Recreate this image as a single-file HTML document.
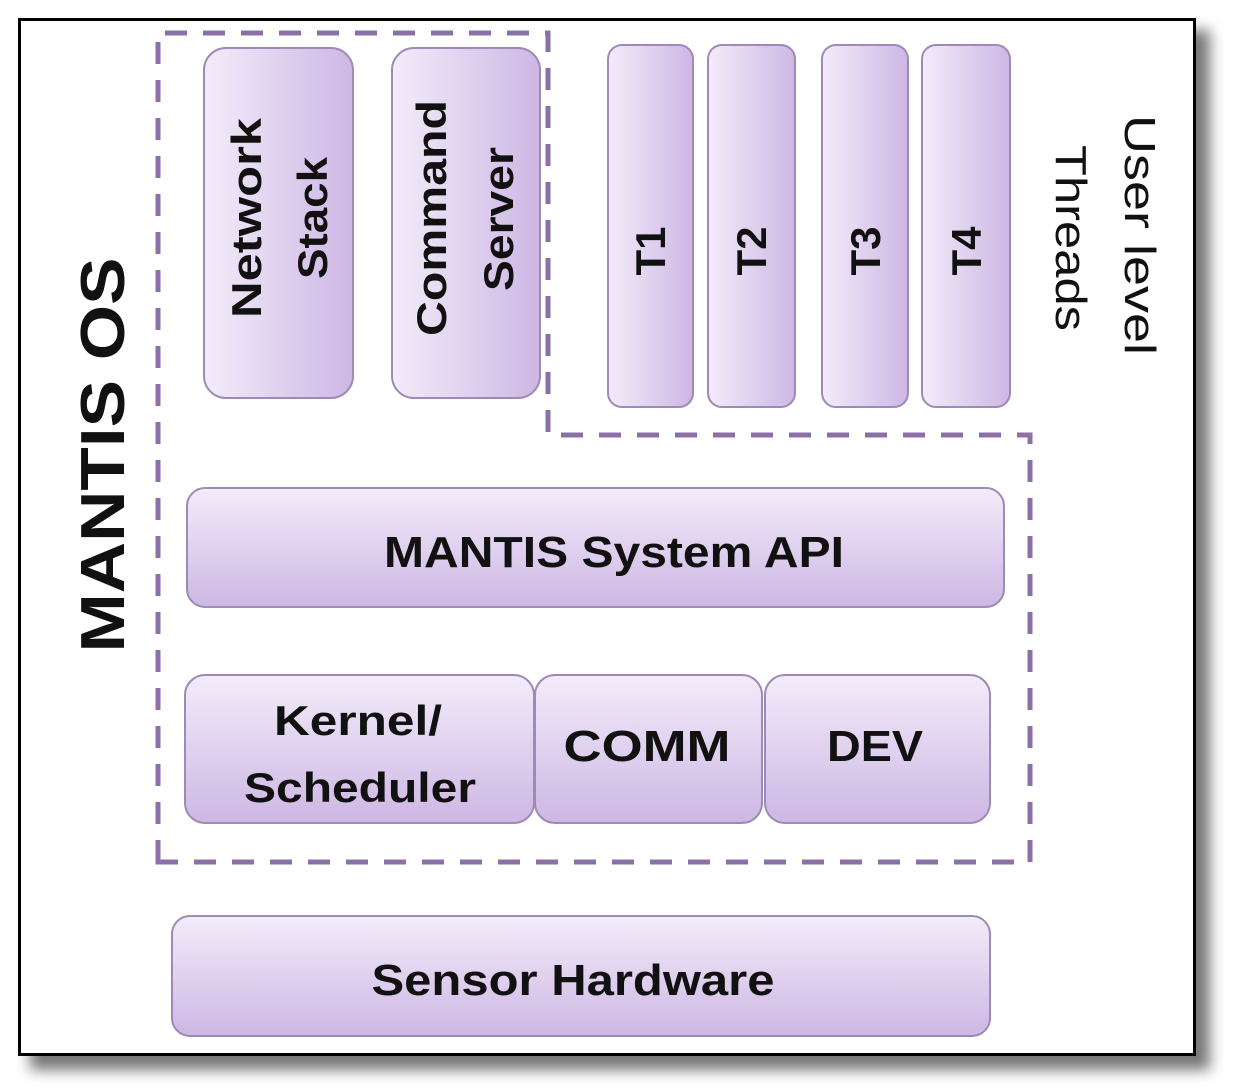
<!DOCTYPE html>
<html><head><meta charset="utf-8"><style>
html,body{margin:0;padding:0;background:#fff;}
svg{display:block;}
text{font-family:"Liberation Sans",sans-serif;font-weight:bold;fill:#111;}
</style></head><body>
<svg width="1249" height="1091" viewBox="0 0 1249 1091" xmlns="http://www.w3.org/2000/svg">
<defs>
<linearGradient id="h" x1="0" y1="0" x2="1" y2="0"><stop offset="0" stop-color="#f3ecfa"/><stop offset="1" stop-color="#cdb7e4"/></linearGradient>
<linearGradient id="v" x1="0" y1="0" x2="0" y2="1"><stop offset="0" stop-color="#f3ecfa"/><stop offset="1" stop-color="#cdb7e4"/></linearGradient>
<filter id="sh" x="-5%" y="-5%" width="115%" height="115%"><feGaussianBlur stdDeviation="7"/></filter>
</defs>
<rect x="30" y="30" width="1180" height="1040" fill="#777" filter="url(#sh)"/>
<rect x="19.5" y="19.5" width="1175" height="1035" fill="#fff" stroke="#000" stroke-width="3"/>
<path d="M158 862 L158 33 L548 33 L548 435 L1030 435 L1030 862 Z" fill="none" stroke="#8a70a6" stroke-width="5" stroke-dasharray="22 16"/>
<g stroke="#9e8ab6" stroke-width="2">
<rect x="204" y="48" width="149" height="350" rx="22" fill="url(#h)"/>
<rect x="392" y="48" width="148" height="350" rx="22" fill="url(#h)"/>
<rect x="608" y="45" width="85" height="362" rx="14" fill="url(#h)"/>
<rect x="708" y="45" width="87" height="362" rx="14" fill="url(#h)"/>
<rect x="822" y="45" width="86" height="362" rx="14" fill="url(#h)"/>
<rect x="922" y="45" width="88" height="362" rx="14" fill="url(#h)"/>
<rect x="187" y="488" width="817" height="119" rx="18" fill="url(#v)"/>
<rect x="185" y="675" width="349" height="148" rx="20" fill="url(#v)"/>
<rect x="535" y="675" width="227" height="148" rx="20" fill="url(#v)"/>
<rect x="765" y="675" width="225" height="148" rx="20" fill="url(#v)"/>
<rect x="172" y="916" width="818" height="120" rx="18" fill="url(#v)"/>
</g>
<text transform="translate(124,455) rotate(-90)" text-anchor="middle" font-size="62" textLength="395" lengthAdjust="spacingAndGlyphs">MANTIS OS</text>
<text transform="translate(261,218) rotate(-90)" text-anchor="middle" font-size="42" textLength="200" lengthAdjust="spacingAndGlyphs">Network</text>
<text transform="translate(327,218) rotate(-90)" text-anchor="middle" font-size="42" textLength="122" lengthAdjust="spacingAndGlyphs">Stack</text>
<text transform="translate(446,218) rotate(-90)" text-anchor="middle" font-size="42" textLength="236" lengthAdjust="spacingAndGlyphs">Command</text>
<text transform="translate(513,219) rotate(-90)" text-anchor="middle" font-size="42" textLength="144" lengthAdjust="spacingAndGlyphs">Server</text>
<text transform="translate(665,251) rotate(-90)" text-anchor="middle" font-size="42">T1</text>
<text transform="translate(766,251) rotate(-90)" text-anchor="middle" font-size="42">T2</text>
<text transform="translate(880,251) rotate(-90)" text-anchor="middle" font-size="42">T3</text>
<text transform="translate(981,251) rotate(-90)" text-anchor="middle" font-size="42">T4</text>
<text transform="translate(1125,235) rotate(90)" text-anchor="middle" font-size="44" font-weight="normal" style="font-weight:normal" textLength="240" lengthAdjust="spacingAndGlyphs">User level</text>
<text transform="translate(1056,238) rotate(90)" text-anchor="middle" font-size="44" style="font-weight:normal" textLength="186" lengthAdjust="spacingAndGlyphs">Threads</text>
<text x="614" y="567" text-anchor="middle" font-size="44" textLength="460" lengthAdjust="spacingAndGlyphs">MANTIS System API</text>
<text x="358" y="735" text-anchor="middle" font-size="42" textLength="168" lengthAdjust="spacingAndGlyphs">Kernel/</text>
<text x="360" y="802" text-anchor="middle" font-size="42" textLength="232" lengthAdjust="spacingAndGlyphs">Scheduler</text>
<text x="647" y="761" text-anchor="middle" font-size="44" textLength="167" lengthAdjust="spacingAndGlyphs">COMM</text>
<text x="875" y="761" text-anchor="middle" font-size="44" textLength="96" lengthAdjust="spacingAndGlyphs">DEV</text>
<text x="573" y="995" text-anchor="middle" font-size="44" textLength="403" lengthAdjust="spacingAndGlyphs">Sensor Hardware</text>
</svg>
</body></html>
